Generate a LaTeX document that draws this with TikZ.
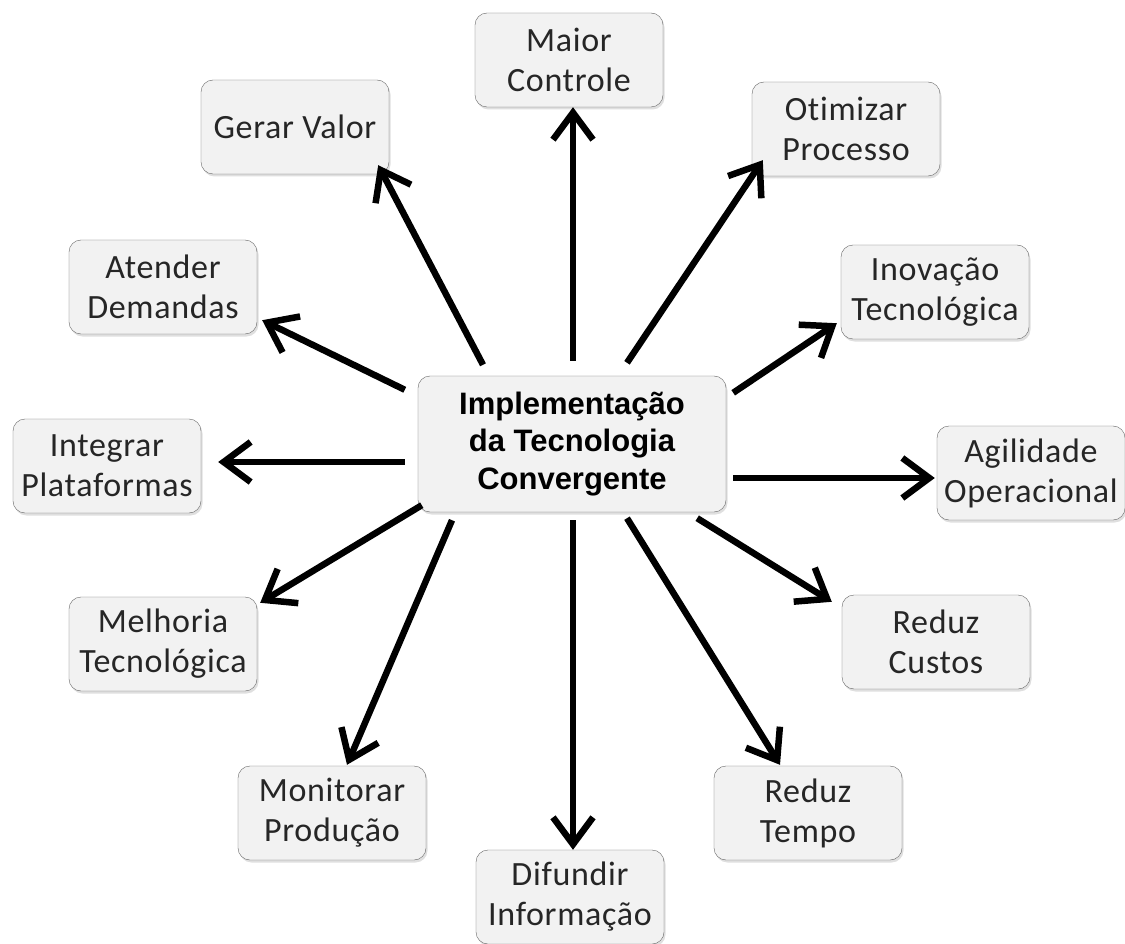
\documentclass[tikz,border=0pt]{standalone}
\usepackage{fontspec}
\setmainfont{Carlito}[Ligatures=NoCommon,LetterSpace=2]
\newfontfamily\implfont{Liberation Sans}
\usetikzlibrary{arrows.meta,shadows,positioning}

\begin{document}
\begin{tikzpicture}[x=1pt,y=-1pt,>={Straight Barb[length=27pt,width=40pt]},
    box/.style={draw=black!60,rounded corners=12pt,fill=black!5,
      minimum width=188pt,minimum height=94pt,align=center,
      font=\fontsize{34}{40}\selectfont,text=black!85,
      drop shadow={shadow xshift=1.5pt,shadow yshift=-2.5pt,opacity=0.25}},
    mainbox/.style={box,minimum width=308pt,minimum height=136pt,
      font=\implfont\bfseries\fontsize{31}{37.5}\selectfont,text=black}]

    \fill[white] (0,0) rectangle (1125,944);
    \useasboundingbox (0,0) rectangle (1125,944);

    \node[mainbox] (impl) at (572,444) {Implementação\\da Tecnologia\\Convergente};

    \node[box] (maior) at (569,60) {Maior\\Controle};
    \node[box] (gerar) at (295,127) {Gerar Valor};
    \node[box] (otimizar) at (846,129) {Otimizar\\Processo};
    \node[box] (atender) at (163,287) {Atender\\Demandas};
    \node[box] (inovacao) at (935,292) {Inovação\\Tecnológica};
    \node[box] (integrar) at (107,466) {Integrar\\Plataformas};
    \node[box] (agilidade) at (1031,473) {Agilidade\\Operacional};
    \node[box] (melhoria) at (163,644) {Melhoria\\Tecnológica};
    \node[box] (custos) at (936,642) {Reduz\\Custos};
    \node[box] (monitorar) at (332,813) {Monitorar\\Produção};
    \node[box] (tempo) at (808,813) {Reduz\\Tempo};
    \node[box] (difundir) at (570,897) {Difundir\\Informação};

    \path[->,line width=6.5pt]
    ([shift={(1,-15)}]impl.north) edge ([shift={(4,0)}]maior.south)
    ([shift={(-89,-11)}]impl.north) edge ([shift={(-11,-9)}]gerar.south east)
    ([shift={(55,-13)}]impl.north) edge ([shift={(11,-16)}]otimizar.south west)
    ([shift={(-13,14)}]impl.north west) edge ([shift={(5,-14)}]atender.south east)
    ([shift={(7,17)}]impl.north east) edge ([shift={(-4,-16)}]inovacao.south west)
    ([shift={(-13,18)}]impl.west) edge ([shift={(17,-4)}]integrar.east)
    ([shift={(7,34)}]impl.east) edge ([shift={(-2,5)}]agilidade.west)
    ([shift={(4,-7)}]impl.south west) edge ([shift={(3,6)}]melhoria.north east)
    ([shift={(-29,6)}]impl.south east) edge ([shift={(-10,7)}]custos.north west)
    ([shift={(-120,8)}]impl.south) edge ([shift={(15,-1)}]monitorar.north)
    ([shift={(1,8)}]impl.south) edge ([shift={(3,0)}]difundir.north)
    ([shift={(55,6)}]impl.south) edge ([shift={(-28,-1)}]tempo.north)
    ;
\end{tikzpicture}
\end{document}
